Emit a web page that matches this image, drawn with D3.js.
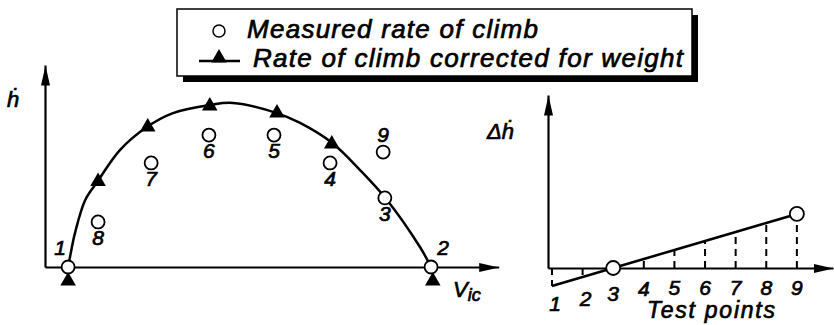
<!DOCTYPE html>
<html>
<head>
<meta charset="utf-8">
<script src="https://cdn.jsdelivr.net/npm/d3@7"></script>
<style>
  html, body { margin: 0; padding: 0; background: #fff; }
  svg { display: block; }
  text { font-family: "Liberation Sans", Arial, sans-serif; font-style: italic; fill: #000;
         stroke: #000; stroke-width: 0.7px; paint-order: stroke; }
</style>
</head>
<body>
<svg id="chart" width="834" height="325"></svg>
<script>
// ---- Rate of climb vs. calibrated airspeed (arbitrary units) ----
const testPoints   = ["1", "2", "3", "4", "5", "6", "7", "8", "9"];
const speedV       = [5.4, 90.2, 79.4, 66.6, 53.5, 38.3, 24.8, 12.4, 79.0];   // V_ic of each test point
const measuredRoc  = [0, 0, 34.2, 51.5, 65.3, 65.3, 51.5, 22.3, 56.9];       // measured ḣ
// corrected ḣ (triangles); point 3 coincides with its measurement, 9 is not plotted
const correctedIds = ["1", "8", "7", "6", "5", "4", "2"];
const correctedV   = [5.4, 12.4, 24.0, 38.5, 54.2, 67.0, 90.6];
const correctedRoc = [-6.9, 42.3, 69.3, 79.7, 76.2, 60.9, -6.9];
// faired curve through the corrected rates of climb
const curveV   = [5.4, 5.8, 7.0, 9.4, 12.2, 17.5, 23.8, 29.9, 38.6, 43.9, 54.2, 59.6, 67.1, 73.6, 79.9, 87.6, 90.2];
const curveRoc = [0, 4.5, 16.8, 33.2, 42.1, 57.9, 69.3, 76.2, 80.2, 81.2, 76.2, 71.3, 61.4, 48.0, 33.2, 9.9, 0];

// ---- Weight correction Δḣ per test point ----
const testIndex = [1, 2, 3, 4, 5, 6, 7, 8, 9];
const deltaRoc  = [-2, -1, 0, 1, 2, 3, 4, 5, 6];

const legendLabels = ["Measured rate of climb", "Rate of climb corrected for weight"];

const svg = d3.select("#chart");

// arrowhead for the axes
const defs = svg.append("defs");
defs.append("marker")
  .attr("id", "arrow")
  .attr("viewBox", "0 0 20 10")
  .attr("refX", 20).attr("refY", 5)
  .attr("markerUnits", "userSpaceOnUse")
  .attr("markerWidth", 20).attr("markerHeight", 10)
  .attr("orient", "auto")
  .append("path").attr("d", "M0,0.5 L20,5 L0,9.5 Z").attr("fill", "#000");

const triangle = d3.symbol().type(d3.symbolTriangle).size(105);

// ================= left panel =================
const xL = d3.scaleLinear().domain([0, 106]).range([45, 498.7]);
const yL = d3.scaleLinear().domain([0, 100]).range([267, 65]);

const gL = svg.append("g");

function bareAxis(g, axis) {
  g.call(axis);
  g.select(".domain").attr("stroke", "#000").attr("stroke-width", 2.2)
    .attr("marker-end", "url(#arrow)");
}
gL.append("g").attr("transform", `translate(0,${yL(0)})`)
  .call(g => bareAxis(g, d3.axisBottom(xL).tickValues([]).tickSizeOuter(0)));
gL.append("g").attr("transform", `translate(${xL(0)},0)`)
  .call(g => bareAxis(g, d3.axisLeft(yL).tickValues([]).tickSizeOuter(0)));

// faired curve
const curvePts = curveV.map((v, i) => [v, curveRoc[i]]);
gL.append("path")
  .datum(curvePts)
  .attr("fill", "none").attr("stroke", "#000").attr("stroke-width", 2.5)
  .attr("d", d3.line().x(d => xL(d[0])).y(d => yL(d[1])).curve(d3.curveCatmullRom.alpha(0.5)));

// corrected points (filled triangles)
gL.selectAll("path.corr")
  .data(correctedIds.map((id, i) => ({ id, v: correctedV[i], h: correctedRoc[i] })))
  .join("path").attr("class", "corr")
  .attr("d", triangle)
  .attr("transform", d => `translate(${xL(d.v)},${yL(d.h)})`)
  .attr("fill", "#000");

// measured points (open circles)
const measured = testPoints.map((id, i) => ({ id, v: speedV[i], h: measuredRoc[i] }));
gL.selectAll("circle.meas")
  .data(measured)
  .join("circle").attr("class", "meas")
  .attr("cx", d => xL(d.v)).attr("cy", d => yL(d.h)).attr("r", 6.5)
  .attr("fill", "#fff").attr("stroke", "#000").attr("stroke-width", 1.8);

// point numbers: below the circle, except for the end points and point 9
gL.selectAll("text.num")
  .data(measured)
  .join("text").attr("class", "num")
  .attr("font-size", 21).attr("text-anchor", "middle")
  .attr("x", d => xL(d.v) + (d.id === "1" ? -8 : d.id === "2" ? 12 : 0))
  .attr("y", d => d.h === 0 ? yL(d.h) - 12 : d.id === "9" ? yL(d.h) - 10 : yL(d.h) + 23)
  .text(d => d.id);

gL.append("text").attr("x", 7).attr("y", 107).attr("font-size", 22).text("ḣ");
const vic = gL.append("text").attr("x", 453).attr("y", 297).attr("font-size", 22);
vic.append("tspan").text("V");
vic.append("tspan").attr("font-size", 18).attr("dy", 4).text("ic");

// ================= right panel =================
const xR = d3.scaleLinear().domain([0.87, 10.18]).range([548, 833]);
const yR = d3.scaleLinear().domain([0, 19.2]).range([268, 95]);
const gR = svg.append("g");

gR.append("g").attr("transform", `translate(0,${yR(0)})`)
  .call(g => bareAxis(g, d3.axisBottom(xR).tickValues([]).tickSizeOuter(0)));
gR.append("g").attr("transform", `translate(${xR.range()[0]},0)`)
  .call(g => bareAxis(g, d3.axisLeft(yR).tickValues([]).tickSizeOuter(0)));

const deltas = testIndex.map((t, i) => ({ t, d: deltaRoc[i] }));

// dashed drop lines from the axis to the trend line
gR.selectAll("line.drop")
  .data(deltas.filter(d => d.d !== 0))
  .join("line").attr("class", "drop")
  .attr("x1", d => xR(d.t)).attr("x2", d => xR(d.t))
  .attr("y1", yR(0)).attr("y2", d => yR(d.d))
  .attr("stroke", "#000").attr("stroke-width", 2).attr("stroke-dasharray", "7,5");

gR.append("path")
  .datum(deltas)
  .attr("fill", "none").attr("stroke", "#000").attr("stroke-width", 2.5)
  .attr("d", d3.line().x(d => xR(d.t)).y(d => yR(d.d)));

gR.selectAll("circle.ref")
  .data(deltas.filter(d => d.t === 3 || d.t === 9))
  .join("circle").attr("class", "ref")
  .attr("cx", d => xR(d.t)).attr("cy", d => yR(d.d)).attr("r", 7)
  .attr("fill", "#fff").attr("stroke", "#000").attr("stroke-width", 1.8);

gR.selectAll("text.tick")
  .data(deltas)
  .join("text").attr("class", "tick")
  .attr("font-size", 21).attr("text-anchor", "middle")
  .attr("x", d => xR(d.t) + (d.t <= 2 ? 3 : 0))
  .attr("y", d => Math.max(295, 316 - 5 * d.t))
  .text(d => testPoints[d.t - 1]);

gR.append("text").attr("x", 647).attr("y", 318).attr("font-size", 23)
  .attr("textLength", 128).text("Test points");
gR.append("text").attr("x", 487).attr("y", 139).attr("font-size", 22).text("Δḣ");

// ================= legend =================
const lg = svg.append("g");
lg.append("rect").attr("x", 183).attr("y", 15).attr("width", 515).attr("height", 67).attr("fill", "#000");
lg.append("rect").attr("x", 177).attr("y", 9).attr("width", 515).attr("height", 67)
  .attr("fill", "#fff").attr("stroke", "#000").attr("stroke-width", 1.5);
lg.append("circle").attr("cx", 219).attr("cy", 31).attr("r", 6)
  .attr("fill", "#fff").attr("stroke", "#000").attr("stroke-width", 1.5);
lg.append("line").attr("x1", 199).attr("x2", 240).attr("y1", 61).attr("y2", 61)
  .attr("stroke", "#000").attr("stroke-width", 2.3);
lg.append("path").attr("d", triangle).attr("transform", "translate(219,58)").attr("fill", "#000");
lg.selectAll("text.leg")
  .data(legendLabels)
  .join("text").attr("class", "leg")
  .attr("font-size", 26)
  .attr("x", (d, i) => i === 0 ? 247 : 253)
  .attr("y", (d, i) => i === 0 ? 38 : 67)
  .attr("textLength", (d, i) => i === 0 ? 291 : 430)
  .text(d => d);
</script>
</body>
</html>
